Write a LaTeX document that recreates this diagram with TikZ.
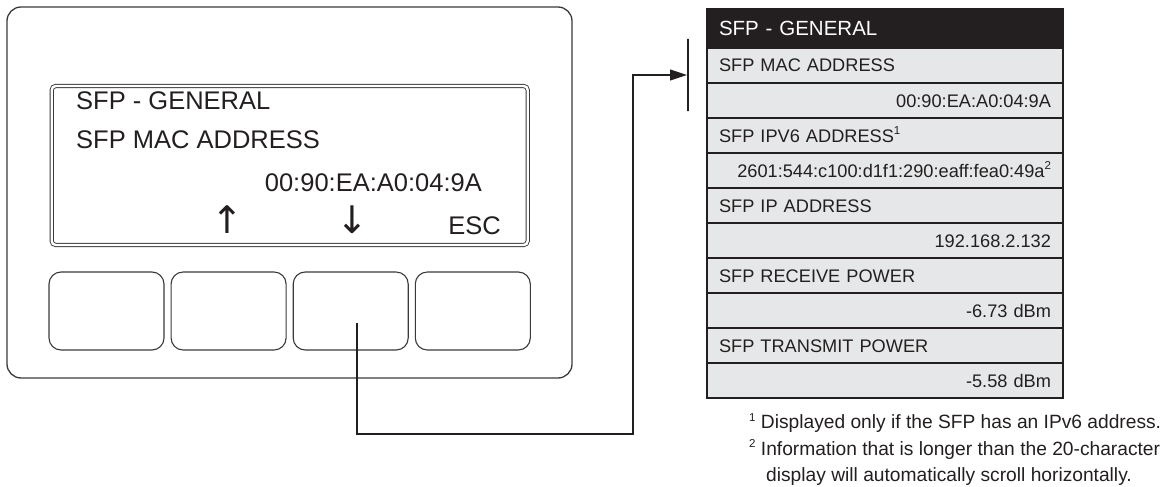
\documentclass[tikz,border=0pt]{standalone}
\usepackage{fontspec}
\setmainfont{Liberation Sans}
\newfontfamily\symfont{DejaVu Sans}
\usetikzlibrary{arrows.meta, positioning}
\definecolor{ink}{HTML}{231F20}
\definecolor{frame}{HTML}{3A3A3A}
\definecolor{cell}{HTML}{E6E7E8}
\newcommand{\fnmark}[1]{\raisebox{0.4em}{\fontsize{11.5}{12}\selectfont #1}}

\begin{document}
\begin{tikzpicture}[
        x=1pt, y=-1pt,
        panel/.style  ={draw=frame, line width=1.3pt, rounded corners=14pt,
                        minimum width=565pt, minimum height=371pt, inner sep=0pt},
        lcd/.style    ={draw=frame, line width=0.9pt, double, double distance=2.4pt,
                        rounded corners=4pt, minimum width=476pt, minimum height=159pt,
                        inner sep=0pt},
        key/.style    ={draw=frame, line width=1.1pt, rounded corners=12pt,
                        minimum width=115pt, minimum height=78pt, inner sep=0pt},
        lcdtext/.style={text=ink, font=\fontsize{25.5}{30}\selectfont, inner sep=0pt},
        lcdarrow/.style={text=ink, font=\symfont\fontsize{38}{38}\selectfont, inner sep=0pt},
        hdr/.style    ={draw=ink, fill=ink, line width=2pt, outer sep=0pt,
                        minimum width=356pt, minimum height=39pt, text width=332pt,
                        inner xsep=12pt, inner ysep=0pt, text height=15pt, text depth=0pt,
                        align=left, text=white, font=\fontsize{20.5}{24}\selectfont},
        item/.style   ={draw=ink, fill=cell, line width=2pt, outer sep=0pt,
                        minimum width=356pt, minimum height=35pt, text width=332pt,
                        inner xsep=12pt, inner ysep=0pt, text height=13pt, text depth=0pt,
                        align=left, text=ink, font=\fontsize{18.2}{22}\selectfont},
        value/.style  ={item, align=right},
        bar/.style    ={draw=ink, line width=2pt, minimum width=0pt, minimum height=72pt,
                        inner sep=0pt, outer sep=1pt},
        note/.style   ={align=left, text=ink, inner sep=0pt,
                        font=\fontsize{19.2}{26.5}\selectfont},
        link/.style   ={draw=ink, line width=1.1pt, -{Triangle[length=17pt, width=11pt]}}
    ]
    \useasboundingbox (0,0) rectangle (1168,487);

    % --- device ---
    \node[panel] (panel) at (289.5,192.5) {};
    \node[lcd] (lcd) at (289.7,165.5) {};

    \node[lcdtext, anchor=base west] (scrtitle) at (76,110) {SFP - GENERAL};
    \node[lcdtext, anchor=base west] (scrfield) at (76,148) {SFP MAC ADDRESS};
    \node[lcdtext, anchor=base east] (scrvalue) at (482,191) {00:90:EA:A0:04:9A};
    \node[lcdarrow] (upkey)   at (227,220) {↑};
    \node[lcdarrow] (downkey) at (352,220) {↓};
    \node[lcdtext, anchor=base east] (esckey) at (501,234) {ESC};

    \node[key] (btn1) at (106.5,311) {};
    \node[key, right=6pt of btn1] (btn2) {};
    \node[key, right=6pt of btn2] (btn3) {};
    \node[key, right=6pt of btn3] (btn4) {};

    % --- menu ---
    \node[hdr] (hdr) at (885,28.5) {SFP - GENERAL};
    \node[item,  below=0pt of hdr]    (mac)    {SFP MAC ADDRESS};
    \node[value, below=0pt of mac]    (macval) {00:90:EA:A0:04:9A};
    \node[item,  below=0pt of macval] (ipv6)   {SFP IPV6 ADDRESS\fnmark{1}};
    \node[value, below=0pt of ipv6]   (ipv6val){2601:544:c100:d1f1:290:eaff:fea0:49a\fnmark{2}};
    \node[item,  below=0pt of ipv6val](ip)     {SFP IP ADDRESS};
    \node[value, below=0pt of ip]     (ipval)  {192.168.2.132};
    \node[item,  below=0pt of ipval]  (rx)     {SFP RECEIVE POWER};
    \node[value, below=0pt of rx]     (rxval)  {-6.73 dBm};
    \node[item,  below=0pt of rxval]  (tx)     {SFP TRANSMIT POWER};
    \node[value, below=0pt of tx]     (txval)  {-5.58 dBm};

    \node[note, anchor=north west] (notes) at (749,413)
        {\fnmark{1} Displayed only if the SFP has an IPv6 address.\\
         \fnmark{2} Information that is longer than the 20-character\\
         \hspace*{17pt}display will automatically scroll horizontally.};

    % --- connector ---
    \node[bar] (bar) at (688,75) {};
    \coordinate (press) at (357,323);
    \coordinate (turn)  at (633,434);
    \draw[link] (press) |- (turn) |- (bar.west);

\end{tikzpicture}
\end{document}
